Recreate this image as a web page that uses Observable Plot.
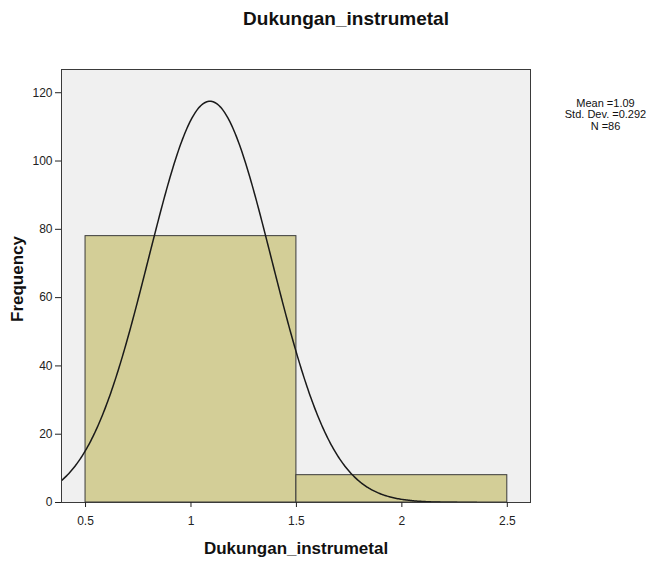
<!DOCTYPE html>
<html>
<head>
<meta charset="utf-8">
<script src="https://cdn.jsdelivr.net/npm/d3@7"></script>
<script src="https://cdn.jsdelivr.net/npm/@observablehq/plot@0.6"></script>
<style>
  html, body { margin: 0; padding: 0; background: #ffffff; }
</style>
</head>
<body>
<div id="chart"></div>
<script>
// ---- data ----
const binStarts = [0.5, 1.5];
const binEnds = [1.5, 2.5];
const frequencies = [78, 8];
const xTicks = [0.5, 1, 1.5, 2, 2.5];
const yTicks = [0, 20, 40, 60, 80, 100, 120];
const statMean = 1.09;
const statSD = 0.292;
const statN = 86;
const chartTitle = "Dukungan_instrumetal";
const xLabel = "Dukungan_instrumetal";
const yLabel = "Frequency";

const bins = binStarts.map((s, i) => ({x1: s, x2: binEnds[i], count: frequencies[i]}));
const binWidth = binEnds[0] - binStarts[0];

// fitted normal curve from the reported statistics
const curveX = d3.range(0.38, 2.36, 0.005);
const curve = curveX.map(x => ({
  x,
  y: statN * binWidth / (statSD * Math.sqrt(2 * Math.PI)) *
     Math.exp(-0.5 * ((x - statMean) / statSD) ** 2)
}));

const statsText = `Mean =${statMean}\nStd. Dev. =${statSD}\nN =${statN}`;

const chart = Plot.plot({
  width: 663,
  height: 563,
  marginLeft: 61,
  marginRight: 133,
  marginTop: 69,
  marginBottom: 61,
  style: {fontFamily: "'Liberation Sans', Arial, sans-serif", fontSize: "12px", color: "#222", background: "#ffffff"},
  x: {domain: [0.386, 2.61]},
  y: {domain: [0, 126.8]},
  marks: [
    Plot.frame({fill: "#f0f0f0", stroke: null}),
    Plot.rectY(bins, {x1: "x1", x2: "x2", y: "count", fill: "#d3ce97", stroke: "#3a3a3a", strokeWidth: 1}),
    Plot.line(curve, {x: "x", y: "y", stroke: "#1a1a1a", strokeWidth: 1.5, clip: "frame"}),
    Plot.frame({stroke: "#3a3a3a", strokeWidth: 1}),
    Plot.axisY({ticks: yTicks, tickSize: 6, tickPadding: 3, label: null, fontSize: 12, tickFormat: d => d}),
    Plot.axisX({ticks: xTicks, tickSize: 5, tickPadding: 9, label: null, fontSize: 12, tickFormat: d => d}),
    Plot.text([chartTitle], {frameAnchor: "top", dx: 50, dy: -45, lineAnchor: "bottom", fontSize: 19, fontWeight: "bold", fill: "#111"}),
    Plot.text([xLabel], {frameAnchor: "bottom", dy: 51, fontSize: 17, fontWeight: "bold", fill: "#111"}),
    Plot.text([yLabel], {frameAnchor: "left", dx: -44, dy: -7, rotate: -90, textAnchor: "middle", fontSize: 17, fontWeight: "bold", fill: "#111"}),
    Plot.text([statsText], {frameAnchor: "top-right", dx: 75, dy: 29, textAnchor: "middle", lineAnchor: "top", lineHeight: 1.05, fontSize: 11, fill: "#111"})
  ]
});

document.getElementById("chart").appendChild(chart);
</script>
</body>
</html>
